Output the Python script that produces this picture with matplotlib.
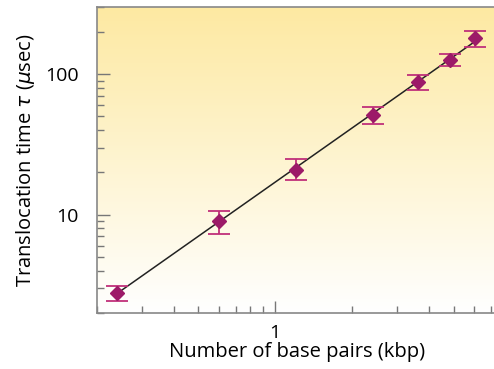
import numpy as np
import matplotlib
matplotlib.use("Agg")
import matplotlib.pyplot as plt
from matplotlib.colors import LinearSegmentedColormap
from matplotlib.ticker import LogLocator, NullFormatter, FixedLocator, FixedFormatter

# data
kbp = [0.24, 0.60, 1.21, 2.42, 3.64, 4.83, 6.06]
tau = [2.79, 9.06, 20.9, 51.2, 87.4, 126.5, 180.0]
tau_hi = [3.13, 10.68, 24.8, 58.4, 98.0, 139.0, 202.0]
tau_lo = [2.44, 7.31, 17.5, 44.2, 77.3, 115.0, 157.0]

plt.rcParams['font.family'] = ['Open Sans', 'DejaVu Sans']
plt.rcParams['mathtext.fontset'] = 'dejavusans'

fig = plt.figure(figsize=(4.94, 3.69), dpi=100)
ax = fig.add_axes([0.196, 0.152, 0.81, 0.829])

# yellow to white background
cmap = LinearSegmentedColormap.from_list('bg', ['#ffffff', '#fde9a2'])
grad = np.linspace(0, 1, 256).reshape(-1, 1)
ax.imshow(grad, aspect='auto', cmap=cmap, origin='lower',
          extent=[0, 1, 0, 1], transform=ax.transAxes, zorder=0)

x = np.array(kbp)
y = np.array(tau)
yerr = [y - np.array(tau_lo), np.array(tau_hi) - y]

# power-law fit
p = np.polyfit(np.log10(x), np.log10(y), 1)
xf = np.array([x.min(), x.max()])
ax.plot(xf, 10 ** np.polyval(p, np.log10(xf)), color='#222222', lw=1.1, zorder=2)

ax.errorbar(x, y, yerr=yerr, fmt='none', ecolor='#c0307a', elinewidth=1.3,
            capsize=8, capthick=1.3, zorder=3)
ax.plot(x, y, 'D', color='#9c1a68', ms=7.5, zorder=4)

ax.set_xscale('log')
ax.set_yscale('log')
ax.set_xlim(0.2, 7.4)
ax.set_ylim(2, 300)

ax.xaxis.set_major_locator(FixedLocator([1]))
ax.xaxis.set_major_formatter(FixedFormatter(['1']))
ax.xaxis.set_minor_locator(LogLocator(base=10, subs=np.arange(2, 10)))
ax.xaxis.set_minor_formatter(NullFormatter())
ax.yaxis.set_major_locator(FixedLocator([10, 100]))
ax.yaxis.set_major_formatter(FixedFormatter(['10', '100']))
ax.yaxis.set_minor_locator(LogLocator(base=10, subs=np.arange(2, 10)))
ax.yaxis.set_minor_formatter(NullFormatter())

ax.tick_params(which='major', direction='in', length=9, width=1, color='#777777',
               labelsize=14)
ax.tick_params(axis='y', which='major', pad=13)
ax.tick_params(axis='x', which='major', pad=8)
ax.tick_params(which='minor', direction='in', length=5, width=1, color='#777777')
ax.tick_params(axis='y', which='both', right=False)
ax.tick_params(axis='x', which='both', top=False)
for s in ax.spines.values():
    s.set_color('#888888')
    s.set_linewidth(1.2)

ax.set_xlabel('Number of base pairs (kbp)', fontsize=14.5, labelpad=0)
ax.set_ylabel(r'Translocation time $\tau$ ($\mu$sec)', fontsize=14.5, labelpad=6)

fig.savefig('out.png', dpi=100)
